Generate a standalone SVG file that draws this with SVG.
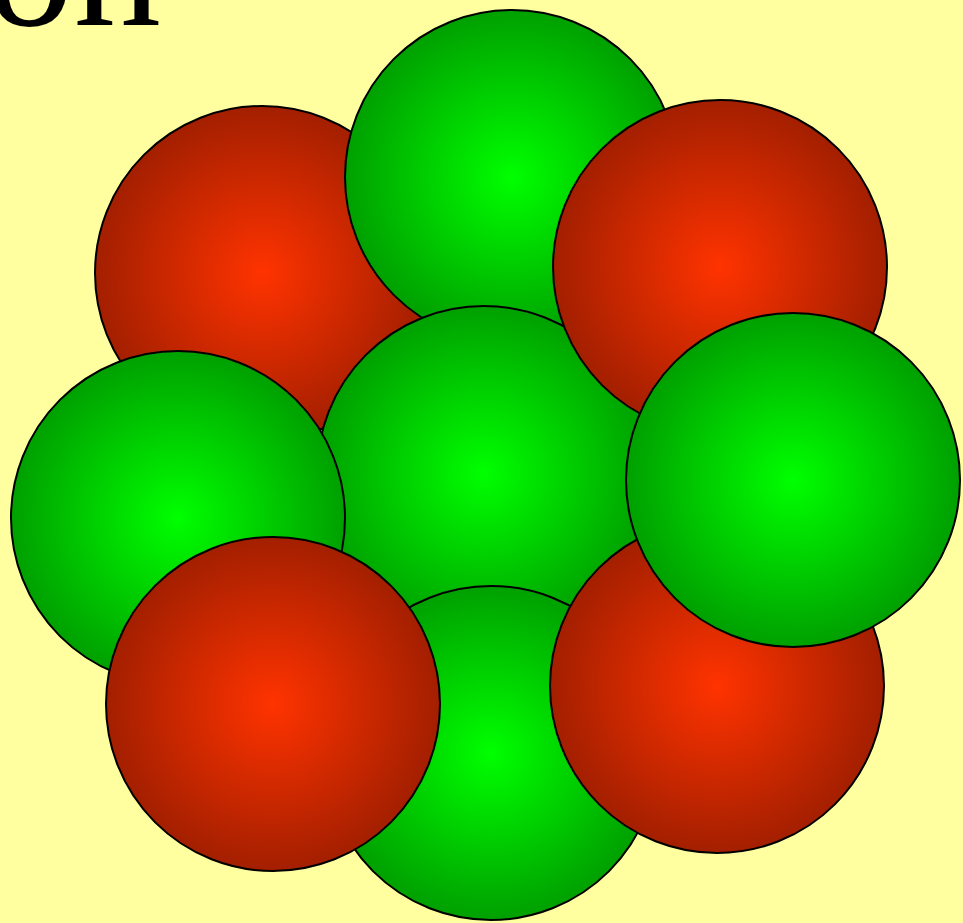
<svg xmlns="http://www.w3.org/2000/svg" width="963" height="923" viewBox="0 0 963 923">
<defs>
<radialGradient id="gr"><stop offset="0" stop-color="#ff3300"/><stop offset="1" stop-color="#a31f00"/></radialGradient>
<radialGradient id="gg"><stop offset="0" stop-color="#00ff00"/><stop offset="1" stop-color="#00a000"/></radialGradient>
<style>
.r{fill:url(#gr);stroke:#000;stroke-width:2}
.g{fill:url(#gg);stroke:#000;stroke-width:2}
text{font-family:"Liberation Serif","DejaVu Serif",serif;font-size:175px;fill:#000}
</style>
</defs>
<rect width="963" height="923" fill="#ffffa0"/>
<text x="161" y="25" text-anchor="end">on</text>
<g id="red-top-left"><circle class="r" cx="262" cy="273" r="167"/></g>
<g id="green-top"><circle class="g" cx="512" cy="177" r="167"/></g>
<g id="green-center"><circle class="g" cx="484" cy="473" r="167"/></g>
<g id="red-top-right"><circle class="r" cx="720" cy="267" r="167"/></g>
<g id="green-left"><circle class="g" cx="178" cy="518" r="167"/></g>
<g id="green-bottom"><circle class="g" cx="491" cy="753" r="167"/></g>
<g id="red-bottom-left"><circle class="r" cx="273" cy="704" r="167"/></g>
<g id="red-bottom-right"><circle class="r" cx="717" cy="686" r="167"/></g>
<g id="green-right"><circle class="g" cx="793" cy="480" r="167"/></g>
</svg>
